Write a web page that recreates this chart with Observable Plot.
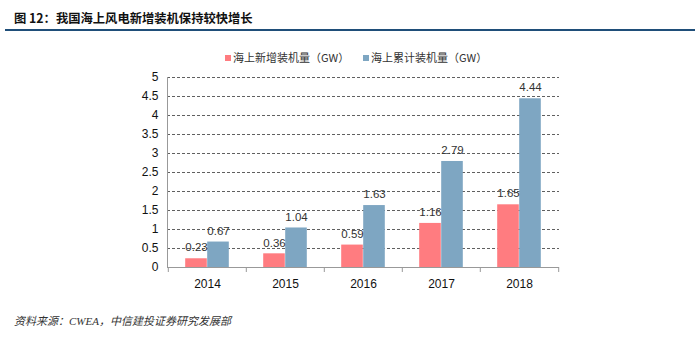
<!DOCTYPE html>
<html>
<head>
<meta charset="utf-8">
<script src="https://cdn.jsdelivr.net/npm/d3@7"></script>
<script src="https://cdn.jsdelivr.net/npm/@observablehq/plot@0.6"></script>
<style>
  body { margin: 0; background: #fff; width: 700px; height: 338px; position: relative; overflow: hidden; }
  #title { position: absolute; left: 14px; top: 9px; font: bold 12.3px "Noto Sans CJK SC", sans-serif; color: #111; }
  #rule { position: absolute; left: 5px; top: 29px; width: 690px; height: 2px; background: #1f4e79; }
  #legend { position: absolute; top: 49px; left: 0; width: 700px; font: 11px "Noto Sans CJK SC", sans-serif; color: #333; }
  .item { position: absolute; top: 0; white-space: nowrap; }
  .sw { display: inline-block; width: 6px; height: 6px; margin-right: 2px; vertical-align: 1px; }
  #chart { position: absolute; left: 0; top: 65px; }
  #caption { position: absolute; left: 14px; top: 312px; font: italic 11px "Liberation Serif", "Noto Sans CJK SC", serif; color: #333; }
</style>
</head>
<body>
<div id="title">图 12：我国海上风电新增装机保持较快增长</div>
<div id="rule"></div>
<div id="legend"></div>
<div id="chart"></div>
<div id="caption">资料来源：CWEA，中信建投证券研究发展部</div>
<script>
const years = ["2014", "2015", "2016", "2017", "2018"];
const newCap = [0.23, 0.36, 0.59, 1.16, 1.65];
const cumCap = [0.67, 1.04, 1.63, 2.79, 4.44];
const seriesNames = ["海上新增装机量（GW）", "海上累计装机量（GW）"];
const seriesColors = ["#FF7C80", "#7EA6C2"];
const yTicks = [0, 0.5, 1, 1.5, 2, 2.5, 3, 3.5, 4, 4.5, 5];

const data = years.map((y, i) => ({year: y, n: newCap[i], c: cumCap[i]}));

// legend
const legend = document.getElementById("legend");
const legendX = [225, 363];
seriesNames.forEach((name, i) => {
  const el = document.createElement("span");
  el.className = "item";
  el.style.left = legendX[i] + "px";
  el.innerHTML = `<span class="sw" style="background:${seriesColors[i]}"></span>${name}`;
  legend.appendChild(el);
});

const W = 700, H = 235, ML = 167, MR = 141;
const band = (W - ML - MR) / years.length;
const half = band / 2;
const barW = 22;
const outer = half - barW;

const chart = Plot.plot({
  width: W,
  height: H,
  marginLeft: ML,
  marginRight: MR,
  marginTop: 12,
  marginBottom: 33,
  style: {fontFamily: "'Liberation Sans', Arial, sans-serif", fontSize: "12px", color: "#111", background: "transparent"},
  x: {domain: years, padding: 0, label: null},
  y: {domain: [0, 5], label: null},
  marks: [
    Plot.gridY(yTicks.filter(d => d > 0), {stroke: "#444", strokeOpacity: 0.85, strokeDasharray: "3,2"}),
    Plot.axisY(yTicks, {tickSize: 0, tickPadding: 9, tickFormat: d => String(d), label: null, fontSize: 12}),
    Plot.barY(data, {x: "year", y: "n", fill: seriesColors[0], insetLeft: outer, insetRight: half}),
    Plot.barY(data, {x: "year", y: "c", fill: seriesColors[1], insetLeft: half, insetRight: outer}),
    Plot.text(data, {x: "year", y: "n", text: d => String(d.n), dx: -barW / 2, dy: -11, fontSize: 11.5, fill: "#333"}),
    Plot.text(data, {x: "year", y: "c", text: d => String(d.c), dx: barW / 2, dy: -11, fontSize: 11.5, fill: "#333"}),
    Plot.frame({anchor: "left", stroke: "#999"}),
    Plot.ruleY([0], {stroke: "#999"}),
    Plot.axisX(years, {tickSize: 5, tickFormat: () => "", dx: -half, stroke: "#999", label: null}),
    Plot.axisX([years[years.length - 1]], {tickSize: 5, tickFormat: () => "", dx: half, stroke: "#999", label: null}),
    Plot.axisX(years, {tickSize: 0, tickPadding: 12, label: null, fontSize: 12})
  ]
});
document.getElementById("chart").appendChild(chart);
</script>
</body>
</html>
